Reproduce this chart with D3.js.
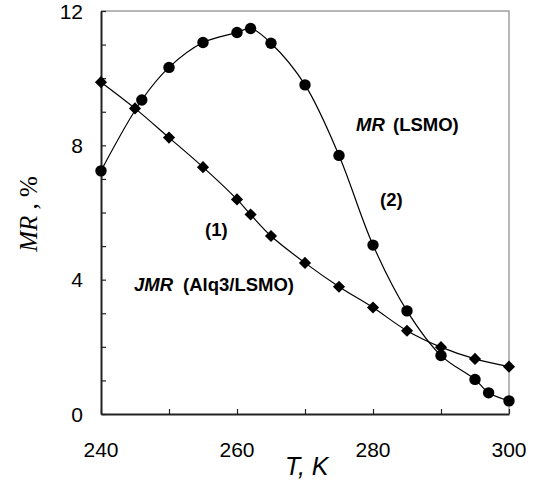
<!DOCTYPE html>
<html>
<head>
<meta charset="utf-8">
<script src="https://cdn.jsdelivr.net/npm/d3@7"></script>
<style>
  html, body { margin: 0; padding: 0; background: #fff; }
  svg { display: block; }
  text { font-family: "Liberation Sans", Arial, sans-serif; }
</style>
</head>
<body>
<svg id="chart" width="539" height="483"></svg>
<script>
// ---- data ----
const lsmoT  = [240, 246, 250, 255, 260, 262, 265, 270, 275, 280, 285, 290, 295, 297, 300];
const lsmoMR = [7.24, 9.35, 10.32, 11.06, 11.36, 11.48, 11.04, 9.80, 7.70, 5.03, 3.07, 1.74, 1.03, 0.63, 0.39];
const jmrT   = [240, 245, 250, 255, 260, 262, 265, 270, 275, 280, 285, 290, 295, 300];
const jmrMR  = [9.88, 9.10, 8.23, 7.35, 6.39, 5.94, 5.30, 4.50, 3.79, 3.17, 2.48, 1.99, 1.64, 1.41];
const xTickLabels = [240, 260, 280, 300];
const yTickLabels = [0, 4, 8, 12];
const xMinorTicks = [240, 250, 260, 270, 280, 290, 300];
const yMinorTicks = [0,1,2,3,4,5,6,7,8,9,10,11,12];

const svg = d3.select("#chart");
const x = d3.scaleLinear().domain([240, 300]).range([101, 509]);
const y = d3.scaleLinear().domain([0, 12]).range([414, 11]);

// frame (top/right)
svg.append("path")
  .attr("d", `M${x(240)},${y(12)}H${x(300)}V${y(0)}`)
  .attr("fill", "none").attr("stroke", "#a0a0a0").attr("stroke-width", 1.5);

// bottom axis
const gx = svg.append("g").attr("transform", `translate(0,${y(0)})`)
  .call(d3.axisBottom(x).tickValues(xMinorTicks).tickSize(-5).tickSizeOuter(0).tickFormat(""));
gx.select(".domain").attr("stroke", "#222").attr("stroke-width", 2);
gx.selectAll(".tick line").attr("stroke", "#222").attr("stroke-width", 1.2);

// left axis
const gy = svg.append("g").attr("transform", `translate(${x(240)},0)`)
  .call(d3.axisLeft(y).tickValues(yMinorTicks).tickSize(-5).tickSizeOuter(0).tickFormat(""));
gy.select(".domain").attr("stroke", "#222").attr("stroke-width", 2);
gy.selectAll(".tick line").attr("stroke", "#222").attr("stroke-width", 1.2);

// tick labels
svg.append("g").selectAll("text").data(xTickLabels).join("text")
  .attr("x", d => x(d)).attr("y", 457)
  .attr("text-anchor", "middle").attr("font-size", 21).attr("fill", "#000")
  .text(d => d);
svg.append("g").selectAll("text").data(yTickLabels).join("text")
  .attr("x", 83).attr("y", d => y(d) + 7.5)
  .attr("text-anchor", "end").attr("font-size", 21).attr("fill", "#000")
  .text(d => d);

// axis titles
svg.append("text").attr("x", 285).attr("y", 475)
  .attr("font-size", 25).attr("font-style", "italic").text("T, K");

const yt = svg.append("text")
  .attr("transform", `translate(37,214) rotate(-90)`)
  .attr("text-anchor", "middle")
  .style("font-family", '"Liberation Serif", "Times New Roman", serif')
  .attr("font-size", 25);
yt.append("tspan").attr("font-style", "italic").text("MR");
yt.append("tspan").text(" , %");

// curves
const line = d3.line().x(d => x(d[0])).y(d => y(d[1])).curve(d3.curveCatmullRom.alpha(0.5));
const lsmo = lsmoT.map((t, i) => [t, lsmoMR[i]]);
const jmr = jmrT.map((t, i) => [t, jmrMR[i]]);

svg.append("path").datum(lsmo).attr("d", line)
  .attr("fill", "none").attr("stroke", "#000").attr("stroke-width", 1.2);
svg.append("path").datum(jmr).attr("d", line)
  .attr("fill", "none").attr("stroke", "#000").attr("stroke-width", 1.2);

// markers
svg.append("g").selectAll("circle").data(lsmo).join("circle")
  .attr("cx", d => x(d[0])).attr("cy", d => y(d[1])).attr("r", 5.7).attr("fill", "#000");
svg.append("g").selectAll("path").data(jmr).join("path")
  .attr("d", d3.symbol().type(d3.symbolSquare).size(74))
  .attr("transform", d => `translate(${x(d[0])},${y(d[1])}) rotate(45)`)
  .attr("fill", "#000");

// annotations
const a1 = svg.append("text").attr("x", 356).attr("y", 131).attr("font-size", 18.5).attr("font-weight", "bold");
a1.append("tspan").attr("font-style", "italic").text("MR");
a1.append("tspan").attr("x", 393).text("(LSMO)");

svg.append("text").attr("x", 380).attr("y", 206).attr("font-size", 18.5).attr("font-weight", "bold").text("(2)");
svg.append("text").attr("x", 205).attr("y", 236).attr("font-size", 18.5).attr("font-weight", "bold").text("(1)");

const a2 = svg.append("text").attr("x", 134).attr("y", 291).attr("font-size", 18.5).attr("font-weight", "bold");
a2.append("tspan").attr("font-style", "italic").text("JMR");
a2.append("tspan").attr("x", 183).text("(Alq3/LSMO)");
</script>
</body>
</html>
